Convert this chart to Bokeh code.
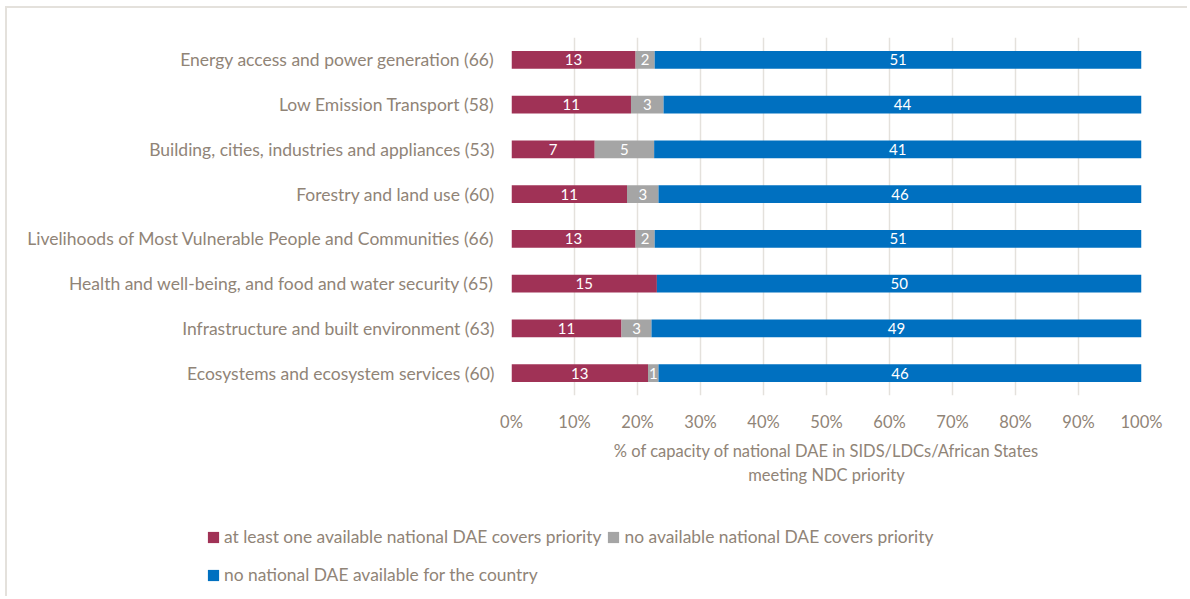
from bokeh.plotting import figure
from bokeh.layouts import column
from bokeh.models import ColumnDataSource, Range1d, FactorRange, Legend, LegendItem, LabelSet, NumeralTickFormatter, FixedTicker
from bokeh.core.properties import value
from bokeh.embed import file_html
from bokeh.resources import INLINE

categories = [
    "Energy access and power generation (66)",
    "Low Emission Transport (58)",
    "Building, cities, industries and appliances (53)",
    "Forestry and land use (60)",
    "Livelihoods of Most Vulnerable People and Communities (66)",
    "Health and well-being, and food and water security (65)",
    "Infrastructure and built environment (63)",
    "Ecosystems and ecosystem services (60)",
]
covered = [13, 11, 7, 11, 13, 15, 11, 13]
not_covered = [2, 3, 5, 3, 2, 0, 3, 1]
no_dae = [51, 44, 41, 46, 51, 50, 49, 46]
series_names = [
    "at least one available national DAE covers priority",
    "no available national DAE covers priority",
    "no national DAE available for the country",
]
colors = ["#A03256", "#A5A5A5", "#0070C0"]
x_ticks = [0, 0.1, 0.2, 0.3, 0.4, 0.5, 0.6, 0.7, 0.8, 0.9, 1.0]

TXT = "#908477"
FONT = "Lato"
BORDER = "2px solid #E4E1DC"

totals = [a + b + c for a, b, c in zip(covered, not_covered, no_dae)]
f1 = [a / t for a, t in zip(covered, totals)]
f2 = [b / t for b, t in zip(not_covered, totals)]
f3 = [c / t for c, t in zip(no_dae, totals)]

p = figure(width=1182, height=490, output_backend="svg", toolbar_location=None,
           y_range=FactorRange(factors=list(reversed(categories)), range_padding=0),
           x_range=Range1d(0, 1),
           min_border_left=504, min_border_right=48, min_border_top=29, min_border_bottom=103)
p.styles = {"border-left": BORDER, "border-top": BORDER}
p.outline_line_color = None
p.frame_align = False

src = ColumnDataSource(dict(cat=categories, f1=f1, f2=f2, f3=f3,
                            covered=covered, not_covered=not_covered, no_dae=no_dae))
renderers = p.hbar_stack(["f1", "f2", "f3"], y="cat", height=0.4, source=src,
                         color=colors, line_color=None)

# labels at segment centres
lab_rows = dict(cat=[], x=[], t=[])
for i, c in enumerate(categories):
    left = 0.0
    for frac, val in ((f1[i], covered[i]), (f2[i], not_covered[i]), (f3[i], no_dae[i])):
        if val > 0:
            lab_rows["cat"].append(c)
            lab_rows["x"].append(left + frac / 2)
            lab_rows["t"].append(str(val))
        left += frac
lsrc = ColumnDataSource(lab_rows)
p.add_layout(LabelSet(x="x", y="cat", text="t", source=lsrc, text_color="white",
                      text_font=value(FONT), text_font_size="15px", text_align="center",
                      text_baseline="middle"))

p.xgrid.ticker = FixedTicker(ticks=x_ticks)
p.xgrid.grid_line_color = "#E4E1DC"
p.xgrid.grid_line_width = 1.5
p.ygrid.grid_line_color = None

p.xaxis.ticker = FixedTicker(ticks=x_ticks)
p.xaxis.formatter = NumeralTickFormatter(format="0%")
p.xaxis.axis_line_color = None
p.xaxis.major_tick_line_color = None
p.xaxis.minor_tick_line_color = None
p.xaxis.major_label_standoff = 10
p.xaxis.major_label_text_color = TXT
p.xaxis.major_label_text_font = FONT
p.xaxis.major_label_text_font_size = "16.5px"
p.xaxis.axis_label = "% of capacity of national DAE in SIDS/LDCs/African States\nmeeting NDC priority"
p.xaxis.axis_label_text_color = TXT
p.xaxis.axis_label_text_font = FONT
p.xaxis.axis_label_text_font_size = "16.5px"
p.xaxis.axis_label_text_font_style = "normal"
p.xaxis.axis_label_standoff = 6

p.yaxis.axis_line_color = None
p.yaxis.major_tick_line_color = None
p.yaxis.minor_tick_line_color = None
p.yaxis.major_label_standoff = 11
p.yaxis.major_label_text_color = TXT
p.yaxis.major_label_text_font = FONT
p.yaxis.major_label_text_font_size = "17.5px"

# legend figure
p2 = figure(width=1182, height=100, output_backend="svg", toolbar_location=None,
            x_range=Range1d(0, 1), y_range=Range1d(0, 1),
            min_border_left=0, min_border_right=0, min_border_top=0, min_border_bottom=0)
p2.styles = {"border-left": BORDER}
p2.outline_line_color = None
p2.frame_align = False
p2.axis.visible = False
p2.grid.visible = False
nan = float("nan")
proxies = [p2.hbar(y=[nan], right=[nan], height=0.4, color=c, line_color=None) for c in colors]
items = [LegendItem(label=n, renderers=[r]) for n, r in zip(series_names, proxies)]
legend = Legend(items=items, location=(199, 5), orientation="horizontal", ncols=2,
                padding=0, margin=0, spacing=5, label_height=33, glyph_height=14,
                glyph_width=14, label_standoff=4, border_line_color=None,
                background_fill_alpha=0, label_text_color=TXT, label_text_font=FONT,
                label_text_font_size="17.4px")
p2.add_layout(legend, "center")

layout = column(p, p2, spacing=0)
layout.styles = {"margin-left": "5px", "margin-top": "6px"}

open("out.html", "w").write(file_html(layout, INLINE))
